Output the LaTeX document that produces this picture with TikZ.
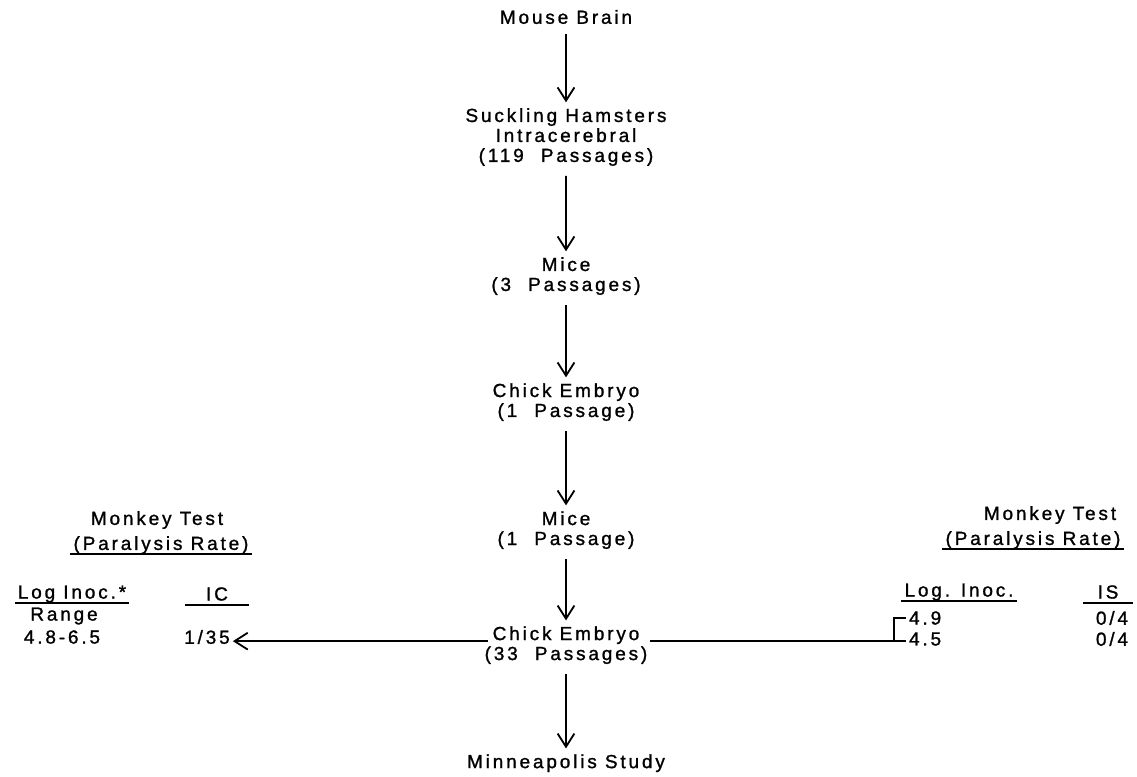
\documentclass[tikz,border=0pt]{standalone}
\usepackage{fontspec}
\newfontfamily\typefont[LetterSpace=15, FakeBold=1.2]{Liberation Sans}
\newcommand\flowfont{\typefont\fontsize{13.5pt}{14.2pt}\selectfont}
\newcommand\pgap{\hspace{0.9em}}
\usetikzlibrary{arrows.meta}
\tikzset{
  txt/.style={font=\flowfont, align=center, inner sep=2pt},
  flow/.style={-{Straight Barb[length=0.33cm,width=0.42cm]}, line width=1.3pt},
  link/.style={line width=1.3pt},
  uline/.style={line width=1.2pt},
}
\begin{document}
\begin{tikzpicture}[x=0.025cm, y=-0.025cm, every node/.style={txt}]
        \useasboundingbox (0,0) rectangle (1137,776);
        % passage line
        \node (brain) at (566,17) {Mouse Brain} [grow=down, level distance=3cm,
            edge from parent/.style={draw, flow, shorten <=5pt, shorten >=2pt}]
            child{
                node (hamster) {Suckling Hamsters\\Intracerebral\\(119\pgap Passages)} [level distance=3.475cm]
                child{
                    node (mice1) {Mice\\(3\pgap Passages)} [level distance=3.15cm]
                    child{
                        node (chick1) {Chick Embryo\\(1\pgap Passage)} [level distance=3.2cm]
                        child{
                            node (mice2) {Mice\\(1\pgap Passage)} [level distance=2.875cm]
                            child{
                                node (chick2) {Chick Embryo\\(33\pgap Passages)} [level distance=2.95cm]
                                child{node (minn) {Minneapolis Study}}
                            }
                        }
                    }
                }
            };
        % monkey test, left
        \node (lmt) at (157,520) {Monkey Test};
        \node (lpr) at (161,545) {(Paralysis Rate)};
        \node (llog) at (72,594) {Log Inoc.*};
        \node[minimum width=1.575cm, inner xsep=0pt] (lic) at (217,594) {IC};
        \node (lrng) at (64,616) {Range};
        \node (lval) at (62,637) {4.8-6.5};
        \node (l135) at (207,637) {1/35};
        \draw[uline] ([yshift=-3pt]lpr.base west) -- ([yshift=-3pt]lpr.base east);
        \draw[uline] ([yshift=-3pt]llog.base west) -- ([yshift=-3pt]llog.base east);
        \draw[uline] ([yshift=-3pt]lic.base west) -- ([yshift=-3pt]lic.base east);
        % monkey test, right
        \node (rmt) at (1050,515) {Monkey Test};
        \node (rpr) at (1033,540) {(Paralysis Rate)};
        \node (rlog) at (959,592) {Log. Inoc.};
        \node[minimum width=1.25cm, inner xsep=0pt] (ris) at (1108,592) {IS};
        \node[anchor=west] (b49) at (906,618) {4.9};
        \node[anchor=west] (b45) at (906,639) {4.5};
        \node (r49) at (1112,618) {0/4};
        \node (r45) at (1112,639) {0/4};
        \draw[uline] ([yshift=-3pt]rpr.base west) -- ([yshift=-3pt]rpr.base east);
        \draw[uline] ([yshift=-3pt]rlog.base west) -- ([yshift=-3pt]rlog.base east);
        \draw[uline] ([yshift=-3pt]ris.base west) -- ([yshift=-3pt]ris.base east);
        % side branches
        \coordinate (ceL) at ([shift={(6,-4)}]chick2.west);
        \coordinate (ceR) at ([shift={(0,-4)}]chick2.east);
        \coordinate (brkB) at (ceR -| b45.west);
        \coordinate (brk) at ([xshift=-0.3cm]brkB);
        \draw[flow] (ceL) -- (ceL -| l135.east);
        \draw[link] (ceR) -- (brkB);
        \draw[link] (brk) |- (b49.west);
\end{tikzpicture}
\end{document}
